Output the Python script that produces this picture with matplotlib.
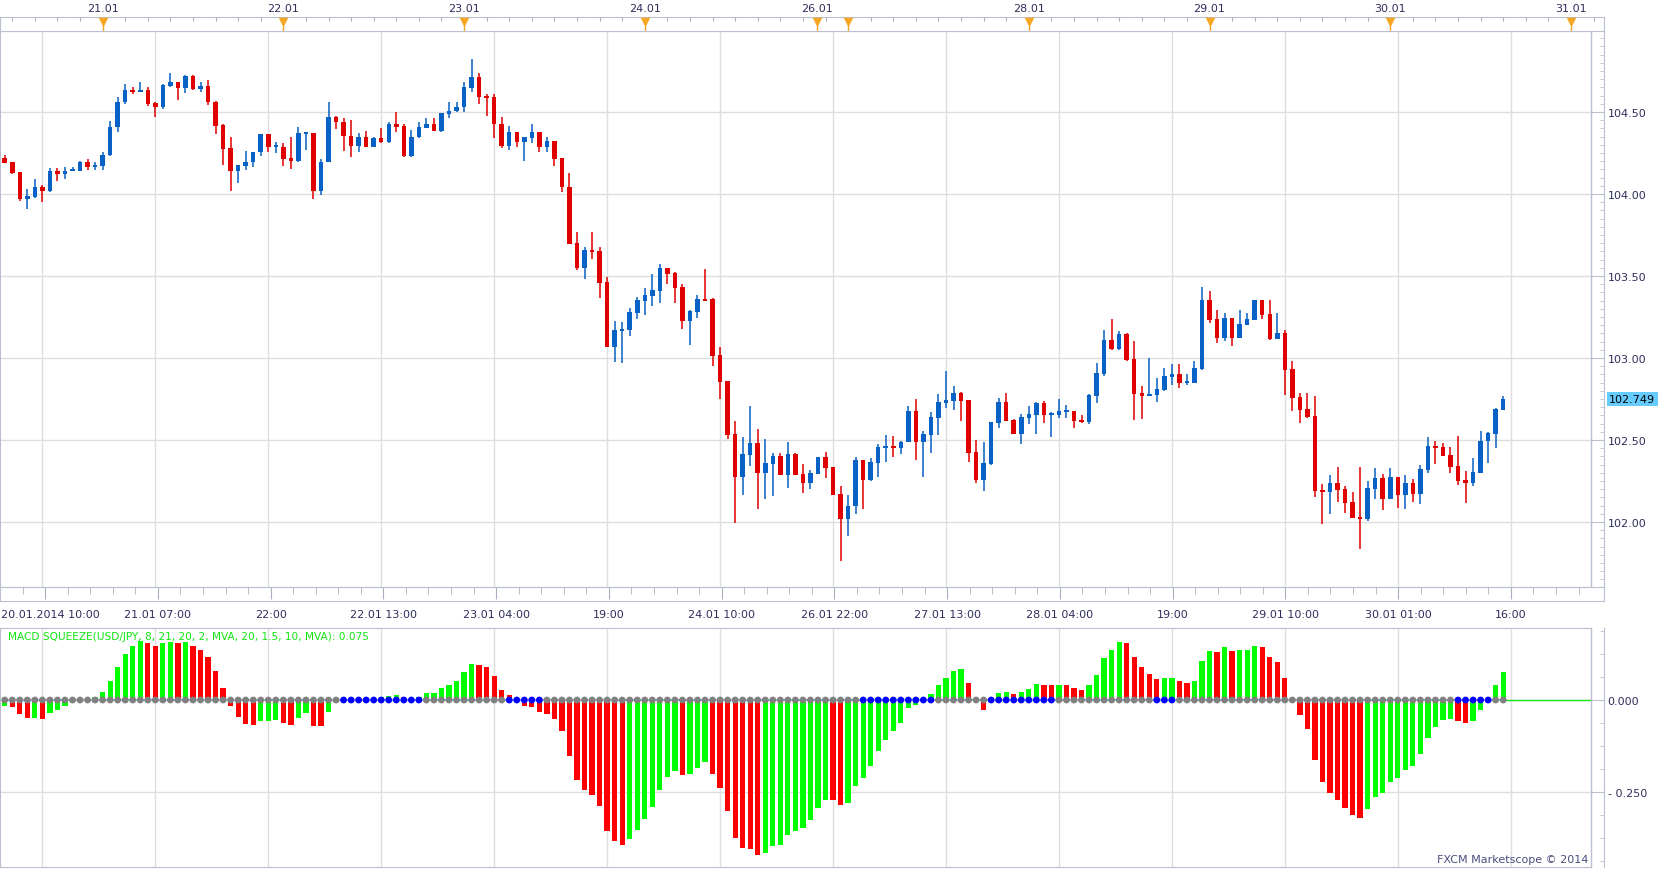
import numpy as np
import matplotlib.pyplot as plt
import matplotlib.transforms as mtransforms
from matplotlib.lines import Line2D

plt.rcParams['font.family'] = ['DejaVu Sans']

# hourly USD/JPY candles, index 0 = 20.01.2014 10:00 (weekend collapsed)
idx = np.arange(1, 201)

opens = [104.217, 104.193, 104.132, 103.969, 103.980, 104.045, 104.017, 104.143, 104.122, 104.139,
         104.139, 104.198, 104.165, 104.170, 104.237, 104.409, 104.561, 104.637, 104.622, 104.637,
         104.552, 104.530, 104.661, 104.681, 104.646, 104.717, 104.639, 104.657, 104.563, 104.420,
         104.278, 104.139, 104.172, 104.196, 104.256, 104.363, 104.287, 104.289, 104.217, 104.200,
         104.368, 104.370, 104.017, 104.196, 104.472, 104.441, 104.356, 104.291, 104.350, 104.287,
         104.339, 104.315, 104.424, 104.413, 104.230, 104.350, 104.404, 104.430, 104.387, 104.487,
         104.504, 104.530, 104.646, 104.715, 104.594, 104.589, 104.430, 104.291, 104.380, 104.317,
         104.341, 104.376, 104.287, 104.326, 104.217, 104.045, 103.700, 103.550, 103.654, 103.650,
         103.463, 103.065, 103.167, 103.169, 103.276, 103.345, 103.378, 103.408, 103.547, 103.517,
         103.432, 103.226, 103.282, 103.356, 103.358, 103.017, 102.858, 102.536, 102.277, 102.410,
         102.482, 102.301, 102.356, 102.401, 102.288, 102.414, 102.292, 102.240, 102.295, 102.397,
         102.336, 102.171, 102.021, 102.095, 102.377, 102.258, 102.362, 102.454, 102.462, 102.454,
         102.486, 102.675, 102.490, 102.532, 102.637, 102.728, 102.738, 102.786, 102.743, 102.427,
         102.258, 102.353, 102.606, 102.732, 102.621, 102.538, 102.636, 102.654, 102.725, 102.654,
         102.654, 102.673, 102.675, 102.621, 102.612, 102.769, 102.904, 103.108, 103.054, 103.145,
         102.993, 102.786, 102.769, 102.775, 102.804, 102.887, 102.904, 102.849, 102.849, 102.934,
         103.352, 103.236, 103.123, 103.243, 103.123, 103.202, 103.232, 103.352, 103.267, 103.117,
         103.152, 102.932, 102.762, 102.688, 102.645, 102.195, 102.182, 102.236, 102.201, 102.121,
         102.032, 102.016, 102.203, 102.266, 102.142, 102.273, 102.166, 102.236, 102.173, 102.316,
         102.462, 102.458, 102.408, 102.340, 102.256, 102.240, 102.299, 102.493, 102.538, 102.684]
highs = [104.241, 104.198, 104.135, 104.028, 104.089, 104.052, 104.156, 104.156, 104.167, 104.167,
         104.204, 104.211, 104.198, 104.259, 104.448, 104.594, 104.670, 104.654, 104.681, 104.650,
         104.563, 104.668, 104.735, 104.683, 104.724, 104.728, 104.685, 104.698, 104.565, 104.424,
         104.350, 104.180, 104.265, 104.259, 104.363, 104.363, 104.315, 104.309, 104.346, 104.409,
         104.378, 104.372, 104.211, 104.559, 104.474, 104.461, 104.454, 104.370, 104.387, 104.350,
         104.400, 104.437, 104.498, 104.430, 104.393, 104.441, 104.461, 104.461, 104.493, 104.563,
         104.559, 104.681, 104.826, 104.735, 104.611, 104.611, 104.472, 104.417, 104.380, 104.346,
         104.428, 104.380, 104.346, 104.326, 104.217, 104.126, 103.771, 103.676, 103.767, 103.680,
         103.493, 103.223, 103.219, 103.304, 103.371, 103.426, 103.510, 103.571, 103.549, 103.523,
         103.450, 103.291, 103.382, 103.541, 103.365, 103.067, 102.858, 102.614, 102.521, 102.706,
         102.567, 102.506, 102.419, 102.419, 102.488, 102.419, 102.353, 102.316, 102.397, 102.427,
         102.336, 102.219, 102.164, 102.397, 102.377, 102.390, 102.477, 102.530, 102.523, 102.493,
         102.706, 102.749, 102.553, 102.671, 102.782, 102.919, 102.830, 102.793, 102.743, 102.501,
         102.488, 102.610, 102.756, 102.786, 102.627, 102.658, 102.706, 102.732, 102.736, 102.671,
         102.749, 102.712, 102.675, 102.651, 102.780, 102.969, 103.169, 103.236, 103.162, 103.152,
         103.102, 102.828, 103.001, 102.878, 102.938, 102.962, 102.962, 102.901, 102.980, 103.432,
         103.406, 103.291, 103.273, 103.245, 103.291, 103.273, 103.354, 103.354, 103.352, 103.273,
         103.169, 102.980, 102.786, 102.786, 102.769, 102.232, 102.286, 102.336, 102.219, 102.182,
         102.336, 102.251, 102.329, 102.292, 102.329, 102.275, 102.286, 102.262, 102.349, 102.519,
         102.493, 102.482, 102.458, 102.523, 102.310, 102.390, 102.553, 102.547, 102.693, 102.769]
lows = [104.189, 104.122, 103.956, 103.908, 103.976, 103.952, 104.015, 104.078, 104.091, 104.139,
        104.139, 104.146, 104.146, 104.146, 104.230, 104.378, 104.548, 104.609, 104.620, 104.535,
        104.470, 104.517, 104.650, 104.572, 104.615, 104.633, 104.622, 104.543, 104.365, 104.176,
        104.017, 104.067, 104.148, 104.165, 104.230, 104.256, 104.250, 104.170, 104.152, 104.198,
        104.267, 103.969, 103.993, 104.196, 104.396, 104.261, 104.226, 104.256, 104.285, 104.285,
        104.311, 104.311, 104.378, 104.228, 104.226, 104.343, 104.402, 104.385, 104.378, 104.463,
        104.502, 104.500, 104.622, 104.548, 104.474, 104.341, 104.280, 104.267, 104.287, 104.200,
        104.311, 104.256, 104.256, 104.170, 104.013, 103.695, 103.537, 103.482, 103.604, 103.367,
        103.065, 102.978, 102.971, 103.134, 103.239, 103.260, 103.317, 103.334, 103.452, 103.334,
        103.178, 103.080, 103.245, 103.348, 102.952, 102.751, 102.508, 101.997, 102.164, 102.343,
        102.082, 102.142, 102.160, 102.288, 102.210, 102.288, 102.179, 102.203, 102.295, 102.269,
        102.166, 101.764, 101.912, 102.051, 102.082, 102.251, 102.277, 102.369, 102.399, 102.416,
        102.486, 102.379, 102.277, 102.423, 102.532, 102.697, 102.682, 102.617, 102.369, 102.240,
        102.190, 102.349, 102.575, 102.615, 102.536, 102.477, 102.599, 102.536, 102.606, 102.521,
        102.636, 102.636, 102.575, 102.606, 102.595, 102.727, 102.888, 103.049, 103.052, 102.982,
        102.623, 102.630, 102.767, 102.732, 102.797, 102.834, 102.817, 102.834, 102.847, 102.925,
        103.215, 103.093, 103.104, 103.073, 103.121, 103.200, 103.230, 103.239, 103.110, 103.115,
        102.775, 102.677, 102.606, 102.636, 102.153, 101.990, 102.051, 102.125, 102.055, 102.023,
        101.838, 102.008, 102.142, 102.075, 102.140, 102.088, 102.082, 102.125, 102.112, 102.301,
        102.356, 102.401, 102.301, 102.225, 102.119, 102.219, 102.297, 102.360, 102.453, 102.684]
closes = [104.189, 104.128, 103.969, 103.985, 104.045, 104.017, 104.143, 104.122, 104.143, 104.143,
          104.198, 104.165, 104.174, 104.241, 104.411, 104.563, 104.637, 104.622, 104.637, 104.546,
          104.530, 104.667, 104.681, 104.646, 104.717, 104.639, 104.657, 104.561, 104.413, 104.274,
          104.139, 104.176, 104.198, 104.259, 104.363, 104.289, 104.291, 104.213, 104.200, 104.370,
          104.372, 104.017, 104.198, 104.472, 104.439, 104.352, 104.291, 104.350, 104.287, 104.339,
          104.315, 104.424, 104.409, 104.230, 104.350, 104.406, 104.430, 104.387, 104.491, 104.509,
          104.533, 104.650, 104.715, 104.591, 104.587, 104.426, 104.291, 104.380, 104.317, 104.346,
          104.376, 104.287, 104.326, 104.213, 104.043, 103.695, 103.550, 103.656, 103.647, 103.458,
          103.065, 103.169, 103.175, 103.280, 103.352, 103.382, 103.413, 103.547, 103.513, 103.428,
          103.226, 103.284, 103.358, 103.350, 103.012, 102.856, 102.530, 102.277, 102.414, 102.482,
          102.301, 102.360, 102.401, 102.288, 102.414, 102.288, 102.240, 102.299, 102.397, 102.332,
          102.166, 102.021, 102.097, 102.377, 102.258, 102.366, 102.458, 102.462, 102.454, 102.488,
          102.675, 102.490, 102.536, 102.641, 102.732, 102.743, 102.786, 102.738, 102.423, 102.258,
          102.360, 102.610, 102.732, 102.617, 102.538, 102.641, 102.658, 102.725, 102.654, 102.660,
          102.675, 102.677, 102.617, 102.612, 102.773, 102.908, 103.108, 103.054, 103.145, 102.986,
          102.782, 102.769, 102.780, 102.810, 102.891, 102.904, 102.849, 102.856, 102.938, 103.352,
          103.230, 103.123, 103.243, 103.123, 103.206, 103.236, 103.352, 103.263, 103.117, 103.152,
          102.928, 102.758, 102.684, 102.641, 102.190, 102.182, 102.236, 102.197, 102.119, 102.027,
          102.016, 102.206, 102.269, 102.142, 102.273, 102.166, 102.236, 102.173, 102.321, 102.462,
          102.453, 102.403, 102.336, 102.251, 102.240, 102.304, 102.497, 102.543, 102.688, 102.749]

# MACD squeeze histogram, one value per candle
macd = [-0.016, -0.018, -0.038, -0.049, -0.048, -0.051, -0.035, -0.027, -0.016, -0.009,
        -0.003, 0.003, 0.007, 0.021, 0.051, 0.091, 0.126, 0.148, 0.161, 0.156,
        0.148, 0.156, 0.159, 0.156, 0.159, 0.148, 0.137, 0.116, 0.080, 0.034,
        -0.016, -0.047, -0.065, -0.068, -0.057, -0.056, -0.054, -0.062, -0.068, -0.049,
        -0.035, -0.070, -0.071, -0.033, -0.005, 0.001, 0.002, 0.004, 0.005, 0.006,
        0.007, 0.010, 0.014, 0.009, 0.006, 0.008, 0.018, 0.019, 0.032, 0.042,
        0.053, 0.075, 0.097, 0.094, 0.089, 0.064, 0.026, 0.013, 0.002, -0.016,
        -0.019, -0.033, -0.038, -0.051, -0.084, -0.152, -0.217, -0.244, -0.257, -0.287,
        -0.355, -0.382, -0.393, -0.379, -0.352, -0.322, -0.290, -0.244, -0.209, -0.192,
        -0.203, -0.200, -0.184, -0.168, -0.200, -0.238, -0.301, -0.374, -0.401, -0.404,
        -0.420, -0.417, -0.398, -0.393, -0.366, -0.355, -0.347, -0.325, -0.293, -0.271,
        -0.272, -0.284, -0.279, -0.233, -0.211, -0.179, -0.138, -0.108, -0.084, -0.062,
        -0.022, -0.014, 0.002, 0.015, 0.042, 0.061, 0.078, 0.083, 0.045, 0.004,
        -0.027, 0.003, 0.018, 0.021, 0.015, 0.023, 0.029, 0.043, 0.042, 0.041,
        0.042, 0.041, 0.034, 0.026, 0.040, 0.067, 0.113, 0.135, 0.159, 0.154,
        0.118, 0.091, 0.070, 0.056, 0.059, 0.060, 0.051, 0.045, 0.051, 0.107,
        0.132, 0.131, 0.143, 0.132, 0.135, 0.136, 0.148, 0.145, 0.118, 0.102,
        0.061, 0.004, -0.041, -0.079, -0.163, -0.222, -0.252, -0.271, -0.293, -0.312,
        -0.320, -0.295, -0.263, -0.252, -0.222, -0.211, -0.190, -0.179, -0.146, -0.103,
        -0.073, -0.054, -0.051, -0.057, -0.062, -0.057, -0.027, -0.004, 0.040, 0.075]
# candles where the squeeze dot is blue
squeeze_on = [(46, 56), (68, 72), (115, 124), (132, 140), (154, 156), (194, 198)]

time_ticks = [6, 21, 36, 51, 66, 81, 96, 111, 126, 141, 156, 171, 186, 201]
time_labels = ['', '21.01 07:00', '22:00', '22.01 13:00', '23.01 04:00', '19:00', '24.01 10:00',
               '26.01 22:00', '27.01 13:00', '28.01 04:00', '19:00', '29.01 10:00',
               '30.01 01:00', '16:00']
first_label = '20.01.2014 10:00'
day_ticks = [14, 38, 62, 86, 108.9, 113, 137, 161, 185, 209]
day_labels = ['21.01', '22.01', '23.01', '24.01', '26.01', '', '28.01', '29.01', '30.01', '31.01']
last_price = 102.749
macd_last = 0.075

W, H = 1663, 870
UP = '#0861c4'
DOWN = '#e00000'
TXT = '#2e2e5c'
EDGE = '#b9c0ce'
GRID = '#dedede'


def box(x0, y0, x1, y1):
    return [x0 / W, 1 - y1 / H, (x1 - x0) / W, (y1 - y0) / H]


def px2i(px):
    return (px + 2.8) / 7.53


fig = plt.figure(figsize=(W / 100, H / 100), dpi=100)
ax = fig.add_axes(box(0, 32, 1591, 588))
axm = fig.add_axes(box(0, 629, 1591, 868))
axt = fig.add_axes(box(0, 18, 1604, 32))
axb = fig.add_axes(box(0, 588, 1604, 602))

x0, x1 = px2i(0), px2i(1591)

# ---- price panel
o = np.array(opens)
h = np.array(highs)
l = np.array(lows)
c = np.array(closes)
col = np.where(c >= o, UP, DOWN)
ax.vlines(idx, l, h, colors=col, lw=1.1, zorder=3)
ax.bar(idx, np.maximum(np.abs(c - o), 0.012), bottom=np.minimum(o, c),
       width=0.6, color=col, lw=0, zorder=4)

ax.set_xlim(x0, x1)
ax.set_ylim(101.604, 104.994)
ax.set_xticks(time_ticks)
ax.tick_params(axis='x', length=0, labelbottom=False)
ax.set_yticks(np.arange(102.0, 104.51, 0.5))
ax.set_yticks(np.arange(101.65, 104.99, 0.05), minor=True)
ax.yaxis.set_major_formatter(plt.FormatStrFormatter('%.2f'))
ax.grid(True, color=GRID, lw=1)
ax.set_axisbelow(True)

for a in (ax, axm):
    a.yaxis.tick_right()
    a.spines['right'].set_position(('outward', 9.4))
    for s in a.spines.values():
        s.set_color(EDGE)
    a.add_line(Line2D([1, 1], [0, 1], transform=a.transAxes, color=EDGE, lw=1, clip_on=False))
    a.tick_params(axis='y', which='major', direction='in', length=9.4, color=EDGE,
                  labelcolor=TXT, labelsize=8, pad=2.5)
    a.tick_params(axis='y', which='minor', direction='in', length=3, color=EDGE)

ax.text(1.0115, last_price, f'{last_price:.3f}', transform=ax.get_yaxis_transform(),
        ha='left', va='center', fontsize=8, color='black',
        bbox=dict(facecolor='#66ccff', edgecolor='none', pad=1.6))

# ---- MACD panel
v = np.array(macd)
rising = np.diff(v, prepend=-np.inf) > 0
axm.bar(idx, v, width=0.7, color=np.where(rising, '#00ff00', '#ff0000'), lw=0, zorder=3)
axm.plot([idx[0], idx[-1]], [0, 0], color='#9fb3d3', lw=1.5, zorder=3.5)
axm.plot([idx[-1], x1], [0, 0], color='#19e619', lw=1, zorder=3.5)
sq = np.zeros(len(idx), bool)
for a_, b_ in squeeze_on:
    sq[(idx >= a_) & (idx <= b_)] = True
axm.scatter(idx, np.zeros(len(idx)), s=24, c=np.where(sq, '#0000ff', '#808080'),
            linewidths=0, zorder=4)

axm.set_xlim(x0, x1)
axm.set_ylim(-0.4538, 0.1957)
axm.set_xticks(time_ticks)
axm.tick_params(axis='x', length=0, labelbottom=False)
axm.set_yticks([-0.25, 0.0])
axm.set_yticklabels(['- 0.250', '0.000'])
axm.set_yticks(np.arange(-0.4375, 0.19, 0.0625), minor=True)
axm.grid(True, color=GRID, lw=1)
axm.set_axisbelow(True)

axm.text(8 / 1591, 0.9665, f'MACD SQUEEZE(USD/JPY, 8, 21, 20, 2, MVA, 20, 1.5, 10, MVA): {macd_last:.3f}',
         transform=axm.transAxes, ha='left', va='center', fontsize=7.6, color='#10e610', zorder=1)
axm.text(1588 / 1591, 0.035, 'FXCM Marketscope \u00a9 2014', transform=axm.transAxes,
         ha='right', va='center', fontsize=8, color='#4b4b7d', zorder=5)

# ---- top date strip
axt.set_xlim(px2i(0), px2i(1604))
axt.set_ylim(0, 1)
axt.set_yticks([])
axt.xaxis.tick_top()
axt.set_xticks(np.arange(2, 213, 3))
axt.tick_params(axis='x', direction='in', length=3, color='#a8b0c0', labeltop=False)
for s in axt.spines.values():
    s.set_color(EDGE)
axt.vlines(day_ticks, 0, 0.6, color='#f5a623', lw=1, zorder=4)
axt.scatter(day_ticks, [0.62] * len(day_ticks), marker='v', s=48, color='#f5a623',
            linewidths=0, zorder=5, clip_on=False)
for xd, lab in zip(day_ticks, day_labels):
    axt.text(xd, 1.64, lab, ha='center', va='center', fontsize=8, color=TXT)

# ---- bottom time strip
axb.set_xlim(px2i(0), px2i(1604))
axb.set_ylim(0, 1)
axb.set_yticks([])
axb.xaxis.tick_top()
axb.set_xticks(time_ticks)
axb.set_xticks(np.arange(0, 213, 3), minor=True)
axb.tick_params(axis='x', which='major', direction='in', length=8.6, color='#a8b0c0', labeltop=False)
axb.tick_params(axis='x', which='minor', direction='in', length=5, color='#a8b0c0')
for s in axb.spines.values():
    s.set_color(EDGE)
for xt, lab in zip(time_ticks, time_labels):
    axb.text(xt, -0.93, lab, ha='center', va='center', fontsize=8, color=TXT)
axb.text(0.0008, -0.93, first_label, transform=axb.transAxes, ha='left', va='center',
         fontsize=8, color=TXT)

fig.savefig('out.png', dpi=100)
